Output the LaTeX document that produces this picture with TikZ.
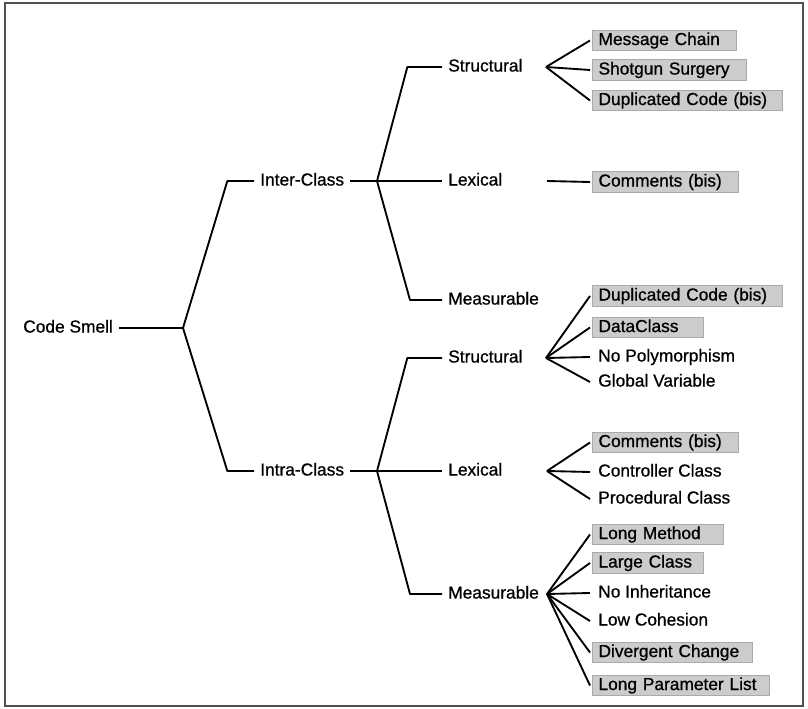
\documentclass[tikz,border=0pt]{standalone}
\usepackage{fontspec}
\setmainfont{Liberation Sans}[FakeBold=0.8]
\definecolor{tagfill}{RGB}{204,204,204}
\definecolor{tagedge}{RGB}{170,170,170}
\definecolor{framegray}{RGB}{80,80,80}
\begin{document}
\begin{tikzpicture}[x=0.75pt,y=-0.75pt,
  label/.style={font=\fontsize{13pt}{15pt}\selectfont, anchor=west,
    inner xsep=4.5pt, inner ysep=1.4pt, text height=9.6pt, text depth=2.8pt},
  tag/.style={label, fill=tagfill, draw=tagedge, line width=0.8pt, align=left},
  branch/.style={line width=1.4pt, black, line join=round},
  frame/.style={draw=framegray, line width=1.6pt},
]
\useasboundingbox (0,0) rectangle (808,709);
\draw[frame] (5,3) rectangle (803,706);

% ---- root and first level ----
\node[label] (root) at (17,328) {Code Smell};
\coordinate (rj) at (183,328);
\node[label] (inter) at (254,181) {Inter-Class};
\node[label] (intra) at (254,471) {Intra-Class};
\coordinate (ij1) at (377,181);
\coordinate (ij2) at (377,471);

% ---- second level ----
\node[label] (s1) at (442,67)  {Structural};
\node[label] (l1) at (442,181) {Lexical};
\node[label] (m1) at (442,300) {Measurable};
\node[label] (s2) at (442,358) {Structural};
\node[label] (l2) at (442,471) {Lexical};
\node[label] (m2) at (442,594) {Measurable};

\coordinate (s1j) at (546,67);
\coordinate (l1j) at (547,181);
\coordinate (s2j) at (546,358);
\coordinate (l2j) at (547,471);
\coordinate (m2j) at (547,594);

% ---- leaves ----
\node[tag, text width=99pt]     (a1) at (592,40.5)  {Message Chain};
\node[tag, text width=106.5pt]  (a2) at (592,70)    {Shotgun Surgery};
\node[tag, text width=133.5pt]  (a3) at (592,100.5) {Duplicated Code (bis)};
\node[tag, text width=100.5pt]  (b1) at (592,182)   {Comments (bis)};

\node[tag, text width=133.5pt]  (c1) at (592,296)   {Duplicated Code (bis)};
\node[tag, text width=74.25pt]  (c2) at (592,327.5) {DataClass};
\node[label]                    (c3) at (592,357)   {No Polymorphism};
\node[label]                    (c4) at (592,382)   {Global Variable};

\node[tag, text width=100.5pt]  (d1) at (592,442.5) {Comments (bis)};
\node[label]                    (d2) at (592,472)   {Controller Class};
\node[label]                    (d3) at (592,499)   {Procedural Class};

\node[tag, text width=89.25pt]  (e1) at (592,534.5) {Long Method};
\node[tag, text width=74.25pt]  (e2) at (592,563)   {Large Class};
\node[label]                    (e3) at (592,593)   {No Inheritance};
\node[label]                    (e4) at (592,621)   {Low Cohesion};
\node[tag, text width=111pt]    (e5) at (592,652.5) {Divergent Change};
\node[tag, text width=123.75pt] (e6) at (592,685.5) {Long Parameter List};

% ---- connectors: root ----
\draw[branch] (root.east) -- (rj);
\draw[branch] (rj) -- ([xshift=-20pt]inter.west) -- (inter.west);
\draw[branch] (rj) -- ([xshift=-20pt]intra.west) -- (intra.west);

% ---- connectors: Inter-Class ----
\draw[branch] (inter.east) -- (ij1) -- (l1.west);
\draw[branch] (ij1) -- ([xshift=-26pt]s1.west) -- (s1.west);
\draw[branch] (ij1) -- ([xshift=-24pt]m1.west) -- (m1.west);

% ---- connectors: Intra-Class ----
\draw[branch] (intra.east) -- (ij2) -- (l2.west);
\draw[branch] (ij2) -- ([xshift=-26pt]s2.west) -- (s2.west);
\draw[branch] (ij2) -- ([xshift=-24pt]m2.west) -- (m2.west);

% ---- connectors: leaves ----
\foreach \leaf in {a1,a2,a3} \draw[branch] (s1j) -- ([xshift=-1.5pt]\leaf.west);
\draw[branch] (l1j) -- ([xshift=-1.5pt]b1.west);
\foreach \leaf in {c1,c2,c3,c4} \draw[branch] (s2j) -- ([xshift=-1.5pt]\leaf.west);
\foreach \leaf in {d1,d2,d3} \draw[branch] (l2j) -- ([xshift=-1.5pt]\leaf.west);
\foreach \leaf in {e1,e2,e3,e4,e5,e6} \draw[branch] (m2j) -- ([xshift=-1.5pt]\leaf.west);
\end{tikzpicture}
\end{document}
